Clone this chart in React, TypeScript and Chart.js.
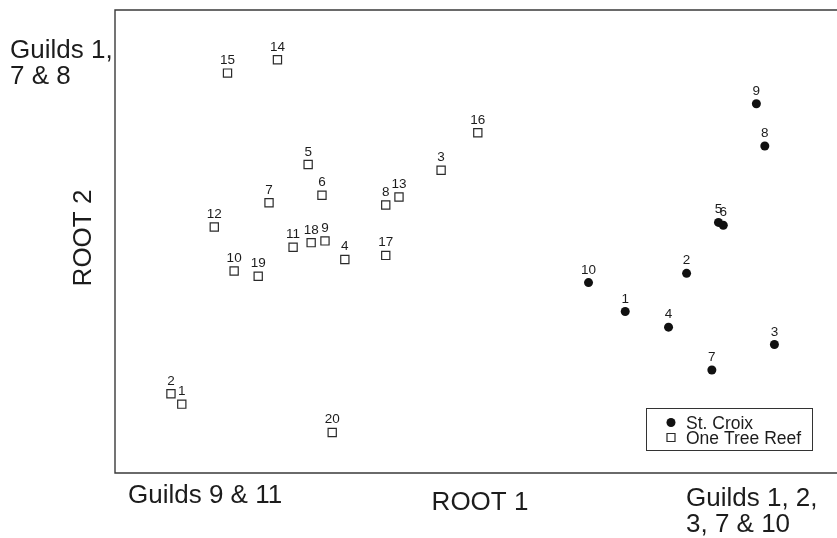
import { useEffect, useRef } from "react";
import { Chart, registerables } from "chart.js";

Chart.register(...registerables);

// Discriminant scores per site (canonical roots 1 and 2)
const stCroixIds = ["1", "2", "3", "4", "5", "6", "7", "8", "9", "10"];
const stCroixRoot1 = [2.48, 3.5, 4.96, 3.2, 4.03, 4.11, 3.92, 4.8, 4.66, 1.87];
const stCroixRoot2 = [-1.21, -0.55, -1.78, -1.48, 0.33, 0.28, -2.22, 1.65, 2.38, -0.71];

const oneTreeIds = [
  "1", "2", "3", "4", "5", "6", "7", "8", "9", "10",
  "11", "12", "13", "14", "15", "16", "17", "18", "19", "20",
];
const oneTreeRoot1 = [
  -4.89, -5.07, -0.58, -2.18, -2.79, -2.56, -3.44, -1.5, -2.51, -4.02,
  -3.04, -4.35, -1.28, -3.3, -4.13, 0.03, -1.5, -2.74, -3.62, -2.39,
];
const oneTreeRoot2 = [
  -2.81, -2.63, 1.23, -0.31, 1.33, 0.8, 0.67, 0.63, 0.01, -0.51,
  -0.1, 0.25, 0.77, 3.14, 2.91, 1.88, -0.24, -0.02, -0.6, -3.3,
];

const seriesNames = ["St. Croix", "One Tree Reef"];
const xTitle = "ROOT 1";
const yTitle = "ROOT 2";
const topLeftNote = ["Guilds 1,", "7 & 8"];
const bottomLeftNote = ["Guilds 9 & 11"];
const bottomRightNote = ["Guilds 1, 2,", "3, 7 & 10"];

const FONT = '"Liberation Sans", Arial, Helvetica, sans-serif';
const INK = "#1c1c1c";

function drawSquare(ctx: CanvasRenderingContext2D, x: number, y: number, half: number) {
  ctx.save();
  ctx.fillStyle = "#ffffff";
  ctx.strokeStyle = "#2a2a2a";
  ctx.lineWidth = 1.2;
  ctx.beginPath();
  ctx.rect(x - half, y - half, half * 2, half * 2);
  ctx.fill();
  ctx.stroke();
  ctx.restore();
}

const annotate = {
  id: "annotate",
  afterDatasetsDraw(chart: Chart) {
    const ctx = chart.ctx;
    ctx.save();
    ctx.fillStyle = INK;
    ctx.font = `13.5px ${FONT}`;
    ctx.textAlign = "center";
    ctx.textBaseline = "alphabetic";
    const labelSets = [stCroixIds, oneTreeIds];
    chart.data.datasets.forEach((_, di) => {
      const meta = chart.getDatasetMeta(di);
      meta.data.forEach((el: any, i: number) => {
        ctx.fillText(labelSets[di][i], el.x, el.y - 9);
      });
    });
    ctx.restore();
  },
  afterDraw(chart: Chart) {
    const ctx = chart.ctx;
    const a = chart.chartArea;
    ctx.save();

    // open frame: left, top and bottom edges
    ctx.strokeStyle = "#3a3a3a";
    ctx.lineWidth = 1.4;
    ctx.beginPath();
    ctx.moveTo(a.right + 2, a.top);
    ctx.lineTo(a.left, a.top);
    ctx.lineTo(a.left, a.bottom);
    ctx.lineTo(a.right + 2, a.bottom);
    ctx.stroke();

    // legend box
    const lx = 646;
    const ly = 408;
    ctx.strokeStyle = "#333333";
    ctx.lineWidth = 1;
    ctx.strokeRect(lx + 0.5, ly + 0.5, 166, 42);
    ctx.fillStyle = "#111111";
    ctx.beginPath();
    ctx.arc(671, 422.5, 4.5, 0, Math.PI * 2);
    ctx.fill();
    drawSquare(ctx, 671, 437.5, 4);
    ctx.fillStyle = INK;
    ctx.font = `17.5px ${FONT}`;
    ctx.textAlign = "left";
    ctx.textBaseline = "alphabetic";
    ctx.fillText(seriesNames[0], 686, 428.5);
    ctx.fillText(seriesNames[1], 686, 443.5);

    // axis titles and guild notes
    ctx.font = `26px ${FONT}`;
    ctx.textAlign = "left";
    topLeftNote.forEach((t, i) => ctx.fillText(t, 10, 58 + i * 26));
    bottomLeftNote.forEach((t, i) => ctx.fillText(t, 128, 503 + i * 26));
    bottomRightNote.forEach((t, i) => ctx.fillText(t, 686, 506 + i * 26));
    ctx.textAlign = "center";
    ctx.fillText(xTitle, 480, 510);
    ctx.save();
    ctx.translate(91, 238);
    ctx.rotate(-Math.PI / 2);
    ctx.fillText(yTitle, 0, 0);
    ctx.restore();

    ctx.restore();
  },
};

export default function App() {
  const ref = useRef<HTMLCanvasElement | null>(null);

  useEffect(() => {
    if (!ref.current) return;
    const chart = new Chart(ref.current, {
      type: "scatter",
      data: {
        datasets: [
          {
            label: seriesNames[0],
            data: stCroixRoot1.map((x, i) => ({ x, y: stCroixRoot2[i] })),
            pointStyle: "circle",
            pointRadius: 4.5,
            backgroundColor: "#111111",
            borderColor: "#111111",
            borderWidth: 0,
          },
          {
            label: seriesNames[1],
            data: oneTreeRoot1.map((x, i) => ({ x, y: oneTreeRoot2[i] })),
            pointStyle: "rect",
            pointRadius: 5.8,
            backgroundColor: "#ffffff",
            borderColor: "#2a2a2a",
            borderWidth: 1.2,
          },
        ],
      },
      options: {
        responsive: false,
        animation: false,
        devicePixelRatio: 1,
        layout: { autoPadding: false, padding: { left: 115, top: 10, right: 0, bottom: 65 } },
        scales: {
          x: { type: "linear", min: -6, max: 6, display: false },
          y: { type: "linear", min: -4, max: 4, display: false },
        },
        plugins: {
          legend: { display: false },
          tooltip: { enabled: false },
        },
      },
      plugins: [annotate],
    });
    return () => chart.destroy();
  }, []);

  return (
    <div style={{ position: "fixed", left: 0, top: 0, width: 837, height: 538, background: "#fff" }}>
      <canvas ref={ref} width={837} height={538} style={{ display: "block" }} />
    </div>
  );
}
